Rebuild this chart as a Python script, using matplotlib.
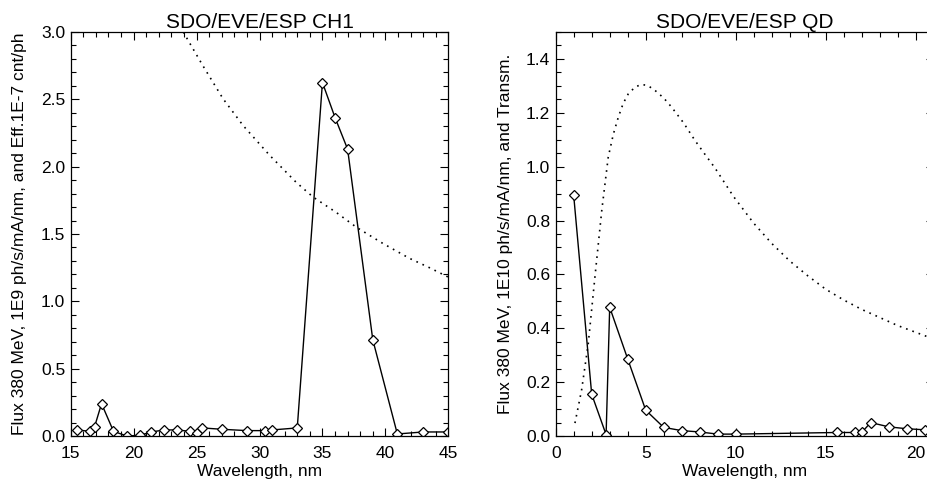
import matplotlib
matplotlib.use('Agg')
import matplotlib.pyplot as plt
from matplotlib.ticker import MultipleLocator

plt.rcParams['font.family'] = ['Liberation Sans', 'DejaVu Sans']
plt.rcParams['font.size'] = 12.5

# ESP CH1 (left)
wl_ch1 = [15.5, 16.5, 16.9, 17.45, 18.4, 19.45, 20.5, 21.4, 22.45, 23.45, 24.45, 25.0, 25.45,
          27.0, 29.0, 30.4, 31.0, 33.0, 35.0, 36.0, 37.0, 39.0, 40.95, 43.0, 45.0]
flux_ch1 = [0.045, 0.035, 0.07, 0.24, 0.035, 0.0, 0.005, 0.03, 0.045, 0.045, 0.035, 0.02, 0.06,
            0.05, 0.04, 0.04, 0.045, 0.06, 2.625, 2.365, 2.13, 0.715, 0.015, 0.03, 0.03]
eff_wl_ch1 = [23.94, 25.5, 27.1, 28.7, 30.8, 32.9, 34.25, 36.1, 37.7, 39.8, 41.9, 43.5, 45.0]
eff_ch1 = [3.0, 2.75, 2.505, 2.305, 2.085, 1.885, 1.775, 1.66, 1.55, 1.43, 1.32, 1.25, 1.18]

# ESP QD (right)
wl_qd = [1.0, 2.0, 2.8, 3.0, 4.0, 5.0, 6.0, 7.0, 8.0, 9.0, 10.0,
         15.6, 16.6, 17.0, 17.5, 18.5, 19.5, 20.5]
flux_qd = [0.893, 0.155, 0.005, 0.478, 0.286, 0.096, 0.032, 0.02, 0.015, 0.007, 0.007,
           0.013, 0.013, 0.013, 0.05, 0.034, 0.027, 0.023]
tr_wl_qd = [1.07, 1.44, 1.81, 2.18, 2.56, 2.92, 3.2, 3.48, 3.75, 4.03, 4.4, 4.74, 5.1, 5.52, 6.0,
            6.44, 7.1, 7.74, 8.3, 8.85, 9.87, 11.0, 12.0, 13.0, 14.0, 15.0, 16.0, 17.0, 18.0,
            19.0, 20.0, 21.0]
tr_qd = [0.048, 0.171, 0.344, 0.591, 0.838, 1.036, 1.12, 1.184, 1.235, 1.27, 1.295, 1.305, 1.302,
         1.283, 1.255, 1.221, 1.163, 1.097, 1.045, 0.995, 0.89, 0.79, 0.715, 0.65, 0.595, 0.545,
         0.505, 0.47, 0.44, 0.41, 0.385, 0.36]

W, H = 928, 487
fig = plt.figure(figsize=(W/100, H/100), dpi=100)

def style(ax):
    ax.tick_params(which='both', direction='in', top=True, right=True, colors='black')
    ax.tick_params(which='major', length=6, width=0.8)
    ax.tick_params(which='minor', length=3.5, width=0.8)
    ax.tick_params(axis='x', pad=7)
    ax.tick_params(axis='y', pad=4)
    for s in ax.spines.values():
        s.set_linewidth(0.9)

ax1 = fig.add_axes([70.7/W, (H-436)/H, 377.6/W, 404/H])
ax1.plot(wl_ch1, flux_ch1, '-', color='black', lw=1.0,
         marker='D', ms=5, mfc='white', mec='black', mew=0.9)
ax1.plot(eff_wl_ch1, eff_ch1, color='black', lw=1.2, linestyle=(0, (1, 3)))
ax1.set_xlim(15, 45)
ax1.set_ylim(0, 3.0)
ax1.xaxis.set_major_locator(MultipleLocator(5))
ax1.xaxis.set_minor_locator(MultipleLocator(1))
ax1.yaxis.set_major_locator(MultipleLocator(0.5))
ax1.yaxis.set_minor_locator(MultipleLocator(0.1))
ax1.yaxis.set_major_formatter('{x:.1f}')
ax1.set_title('SDO/EVE/ESP CH1', pad=3)
ax1.set_xlabel('Wavelength, nm', labelpad=2.5)
ax1.set_ylabel('Flux 380 MeV, 1E9 ph/s/mA/nm, and Eff.1E-7 cnt/ph', labelpad=10)
style(ax1)

ax2 = fig.add_axes([555.7/W, (H-436)/H, 378/W, 404/H])
ax2.plot(wl_qd, flux_qd, '-', color='black', lw=1.0,
         marker='D', ms=5, mfc='white', mec='black', mew=0.9)
ax2.plot(tr_wl_qd, tr_qd, color='black', lw=1.2, linestyle=(0, (1, 3)))
ax2.set_xlim(0, 21)
ax2.set_ylim(0, 1.5)
ax2.xaxis.set_major_locator(MultipleLocator(5))
ax2.xaxis.set_minor_locator(MultipleLocator(1))
ax2.yaxis.set_major_locator(MultipleLocator(0.2))
ax2.yaxis.set_minor_locator(MultipleLocator(0.05))
ax2.yaxis.set_major_formatter('{x:.1f}')
ax2.set_title('SDO/EVE/ESP QD', pad=3)
ax2.set_xlabel('Wavelength, nm', labelpad=2.5)
ax2.set_ylabel('Flux 380 MeV, 1E10 ph/s/mA/nm, and Transm.', labelpad=9)
style(ax2)

fig.savefig('out.png', dpi=100)
